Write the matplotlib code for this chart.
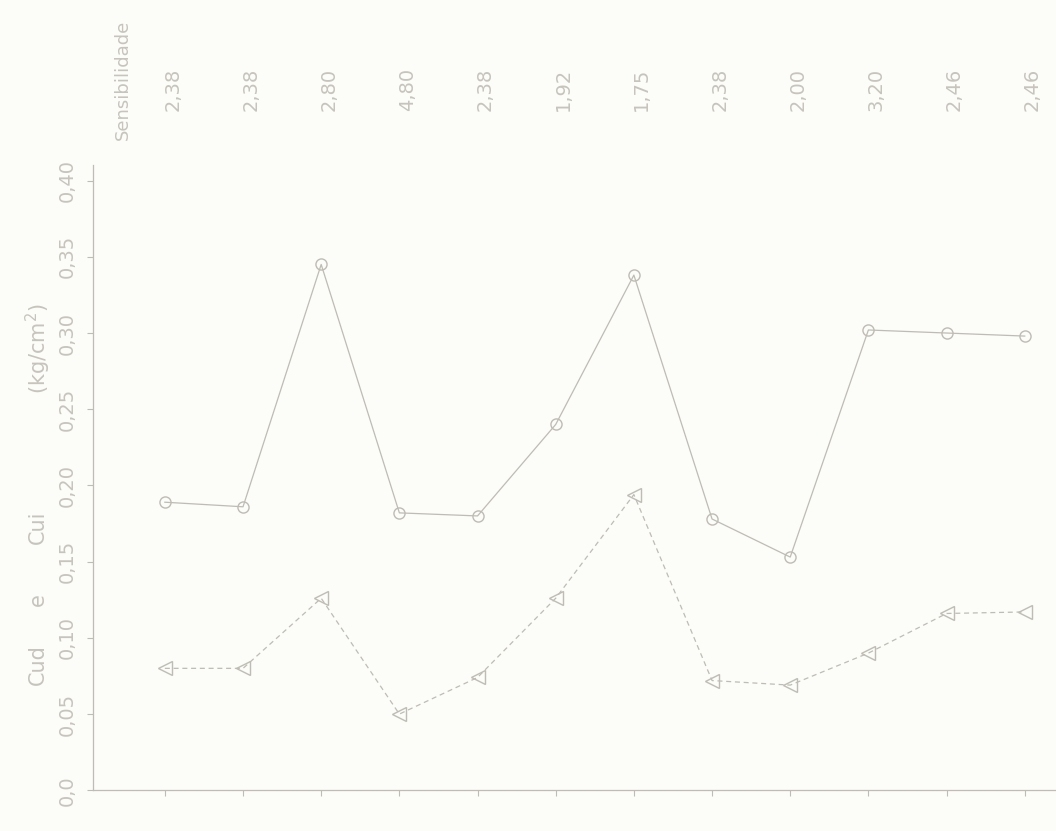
import matplotlib
matplotlib.use('Agg')
import matplotlib.pyplot as plt
import matplotlib.transforms as mtransforms
import numpy as np

# ensaios (posicoes ao longo do eixo horizontal)
ensaios = np.arange(1, 13)

# Cud (circulos) e Cui (triangulos) em kg/cm2
cud = [0.189, 0.186, 0.345, 0.182, 0.180, 0.240, 0.338, 0.178, 0.153, 0.302, 0.300, 0.298]
cui = [0.080, 0.080, 0.126, 0.050, 0.074, 0.126, 0.194, 0.072, 0.069, 0.090, 0.116, 0.117]

# sensibilidade de cada ensaio
sensibilidade = ['2,38', '2,38', '2,80', '4,80', '2,38', '1,92',
                 '1,75', '2,38', '2,00', '3,20', '2,46', '2,46']

yticks = [0.0, 0.05, 0.10, 0.15, 0.20, 0.25, 0.30, 0.35, 0.40]
ytick_labels = ['0,0', '0,05', '0,10', '0,15', '0,20', '0,25', '0,30', '0,35', '0,40']

line_color = '#bebcb4'
text_color = '#c6c4bc'
bg = '#fcfcf8'

fig = plt.figure(figsize=(10.56, 8.31), dpi=100, facecolor=bg)
ax = fig.add_axes([0.088, 0.049, 0.912, 0.752])
ax.set_facecolor(bg)

ax.plot(ensaios, cud, color=line_color, lw=0.9, marker='o', ms=8,
        mfc='none', mec=line_color, mew=1.0)
ax.plot(ensaios, cui, color=line_color, lw=0.9, ls=(0, (4, 3)),
        marker='<', ms=10, mfc='none', mec=line_color, mew=1.0)

ax.set_xlim(0.08, 12.4)
ax.set_ylim(0, 0.41)

for s in ['top', 'right']:
    ax.spines[s].set_visible(False)
for s in ['left', 'bottom']:
    ax.spines[s].set_color(line_color)
    ax.spines[s].set_linewidth(0.9)

ax.set_xticks(ensaios)
ax.set_xticklabels([])
ax.set_yticks(yticks)
ax.set_yticklabels(ytick_labels)
ax.tick_params(axis='both', colors=line_color, length=4, width=0.8)
ax.tick_params(axis='y', labelrotation=90, pad=8, labelcolor=text_color,
               labelsize=14)
for lab in ax.get_yticklabels():
    lab.set_va('center')

# sensibilidade acima do grafico
trans = mtransforms.blended_transform_factory(ax.transData, fig.transFigure)
for x, s in zip(ensaios, sensibilidade):
    ax.text(x + 0.1, 0.892, s, transform=trans, rotation=90, ha='center',
            va='center', fontsize=14, color=text_color)
fig.text(0.116, 0.904, 'Sensibilidade', rotation=90, ha='center',
         va='center', fontsize=13, color=text_color)

# titulo do eixo vertical, em partes espacadas
for txt, yc in [('Cud', 0.20), ('e', 0.278), ('Cui', 0.365),
                ('(kg/cm$^{2}$)', 0.58)]:
    fig.text(0.036, yc, txt, rotation=90, ha='center', va='center',
             fontsize=15, color=text_color)

fig.savefig('out.png', dpi=100, facecolor=bg)
